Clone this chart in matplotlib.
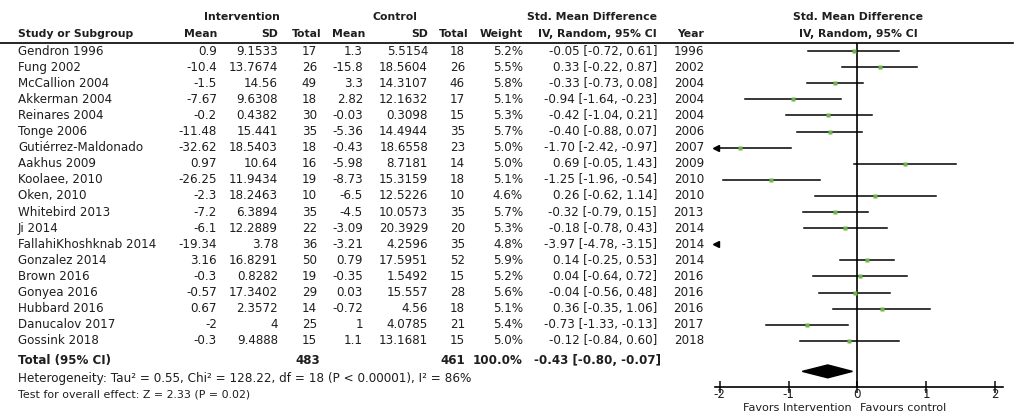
"""
Forest plot: standardised mean difference, intervention vs control.

Outputs:
    out.png
"""

import matplotlib.pyplot as plt
from matplotlib import transforms
from matplotlib.lines import Line2D

plt.rcParams["font.family"] = ["DejaVu Sans"]
plt.rcParams["axes.unicode_minus"] = False

studies = [
    "Gendron 1996", "Fung 2002", "McCallion 2004", "Akkerman 2004",
    "Reinares 2004", "Tonge 2006", "Gutiérrez-Maldonado", "Aakhus 2009",
    "Koolaee, 2010", "Oken, 2010", "Whitebird 2013", "Ji 2014",
    "FallahiKhoshknab 2014", "Gonzalez 2014", "Brown 2016", "Gonyea 2016",
    "Hubbard 2016", "Danucalov 2017", "Gossink 2018",
]
int_mean = [0.9, -10.4, -1.5, -7.67, -0.2, -11.48, -32.62, 0.97, -26.25, -2.3,
            -7.2, -6.1, -19.34, 3.16, -0.3, -0.57, 0.67, -2, -0.3]
int_sd = [9.1533, 13.7674, 14.56, 9.6308, 0.4382, 15.441, 18.5403, 10.64,
          11.9434, 18.2463, 6.3894, 12.2889, 3.78, 16.8291, 0.8282, 17.3402,
          2.3572, 4, 9.4888]
int_n = [17, 26, 49, 18, 30, 35, 18, 16, 19, 10, 35, 22, 36, 50, 19, 29, 14, 25, 15]
ctl_mean = [1.3, -15.8, 3.3, 2.82, -0.03, -5.36, -0.43, -5.98, -8.73, -6.5,
            -4.5, -3.09, -3.21, 0.79, -0.35, 0.03, -0.72, 1, 1.1]
ctl_sd = [5.5154, 18.5604, 14.3107, 12.1632, 0.3098, 14.4944, 18.6558, 8.7181,
          15.3159, 12.5226, 10.0573, 20.3929, 4.2596, 17.5951, 1.5492, 15.557,
          4.56, 4.0785, 13.1681]
ctl_n = [18, 26, 46, 17, 15, 35, 23, 14, 18, 10, 35, 20, 35, 52, 15, 28, 18, 21, 15]
weight = [5.2, 5.5, 5.8, 5.1, 5.3, 5.7, 5.0, 5.0, 5.1, 4.6, 5.7, 5.3, 4.8, 5.9,
          5.2, 5.6, 5.1, 5.4, 5.0]
smd = [-0.05, 0.33, -0.33, -0.94, -0.42, -0.40, -1.70, 0.69, -1.25, 0.26,
       -0.32, -0.18, -3.97, 0.14, 0.04, -0.04, 0.36, -0.73, -0.12]
ci_lo = [-0.72, -0.22, -0.73, -1.64, -1.04, -0.88, -2.42, -0.05, -1.96, -0.62,
         -0.79, -0.78, -4.78, -0.25, -0.64, -0.56, -0.35, -1.33, -0.84]
ci_hi = [0.61, 0.87, 0.08, -0.23, 0.21, 0.07, -0.97, 1.43, -0.54, 1.14, 0.15,
         0.43, -3.15, 0.53, 0.72, 0.48, 1.06, -0.13, 0.60]
year = [1996, 2002, 2004, 2004, 2004, 2006, 2007, 2009, 2010, 2010, 2013,
        2014, 2014, 2014, 2016, 2016, 2016, 2017, 2018]

total_int_n = 483
total_ctl_n = 461
total_smd = -0.43
total_lo = -0.80
total_hi = -0.07
xticks = [-2, -1, 0, 1, 2]

W, H = 1021, 420
TXT = "#1e1e1e"
FS = 8.6      # table body
FS_HEAD = 7.8  # bold column headers

fig = plt.figure(figsize=(W / 100, H / 100), dpi=100)

# forest axes: spans from header line (y=43px) to x axis (y=387px)
ax = fig.add_axes([715 / W, 1 - 387 / H, 288 / W, (387 - 43) / H])
xmin, xmax = -2.07, 2.12
ax.set_xlim(xmin, xmax)
ax.set_ylim(20.87, -0.5)
for s in ("top", "left", "right"):
    ax.spines[s].set_visible(False)
ax.spines["bottom"].set_linewidth(1.2)
ax.set_yticks([])
ax.set_xticks(xticks)
ax.set_xticklabels([str(t) for t in xticks])
ax.tick_params(axis="x", direction="inout", length=8, width=1.2,
               labelsize=8.6, pad=-3, colors=TXT)
ax.axvline(0, color="black", lw=1.2)

for i in range(len(studies)):
    lo, hi = ci_lo[i], ci_hi[i]
    if hi > xmin:
        ax.plot([max(lo, xmin), min(hi, xmax)], [i, i], color="black", lw=1.1)
    if lo < xmin:
        ax.plot([xmin + 0.02], [i], marker="<", color="black", ms=5, clip_on=False)
    if xmin < smd[i] < xmax:
        ax.plot([smd[i]], [i], marker="s", color="#6cb548", ms=weight[i] * 0.5,
                mec="none")

# pooled estimate diamond
dy = 0.4
ax.fill([total_lo, total_smd, total_hi, total_smd],
        [19.9, 19.9 - dy, 19.9, 19.9 + dy], color="black")

# table text: x in pixels of the figure, y in row units of the forest axes
tr = transforms.blended_transform_factory(fig.transFigure, ax.transData)


def put(xpx, row, s, ha="right", bold=False, size=FS):
    fig.text(xpx / W, row, s, transform=tr, ha=ha, va="center", fontsize=size,
             color=TXT, fontweight="bold" if bold else "normal")


# headers
put(242, -2.1, "Intervention", ha="center", bold=True, size=FS_HEAD)
put(395, -2.1, "Control", ha="center", bold=True, size=FS_HEAD)
put(592, -2.1, "Std. Mean Difference", ha="center", bold=True, size=FS_HEAD)
put(858, -2.1, "Std. Mean Difference", ha="center", bold=True, size=FS_HEAD)
put(18, -1.05, "Study or Subgroup", ha="left", bold=True, size=FS_HEAD)
for xpx, lab in [(217, "Mean"), (278, "SD"), (322, "Total"), (365, "Mean"),
                 (428, "SD"), (468, "Total"), (523, "Weight"),
                 (657, "IV, Random, 95% CI"), (704, "Year")]:
    put(xpx, -1.05, lab, bold=True, size=FS_HEAD)
put(858, -1.05, "IV, Random, 95% CI", ha="center", bold=True, size=FS_HEAD)

fig.add_artist(Line2D([0, 1013 / W], [1 - 43 / H, 1 - 43 / H], color="black", lw=1.2))

for i, name in enumerate(studies):
    put(18, i, name, ha="left")
    put(217, i, str(int_mean[i]))
    put(278, i, str(int_sd[i]))
    put(317, i, str(int_n[i]))
    put(363, i, str(ctl_mean[i]))
    put(428, i, str(ctl_sd[i]))
    put(465, i, str(ctl_n[i]))
    put(523, i, f"{weight[i]:.1f}%")
    put(657, i, f"{smd[i]:.2f} [{ci_lo[i]:.2f}, {ci_hi[i]:.2f}]")
    put(704, i, str(year[i]))

# totals
put(18, 19.2, "Total (95% CI)", ha="left", bold=True)
put(320, 19.2, str(total_int_n), bold=True)
put(465, 19.2, str(total_ctl_n), bold=True)
put(523, 19.2, "100.0%", bold=True)
put(661, 19.2, f"{total_smd:.2f} [{total_lo:.2f}, {total_hi:.2f}]", bold=True)
put(18, 20.35, "Heterogeneity: Tau² = 0.55, Chi² = 128.22, df = 18 (P < 0.00001), I² = 86%",
    ha="left", size=8.65)
put(18, 21.35, "Test for overall effect: Z = 2.33 (P = 0.02)", ha="left", size=7.9)

# favours labels under the axis
fig.text(852 / W, 1 - 408 / H, "Favors Intervention", ha="right", va="center",
         fontsize=8.1, color=TXT)
fig.text(860 / W, 1 - 408 / H, "Favours control", ha="left", va="center",
         fontsize=8.1, color=TXT)

fig.savefig("out.png", dpi=100, facecolor="white")
